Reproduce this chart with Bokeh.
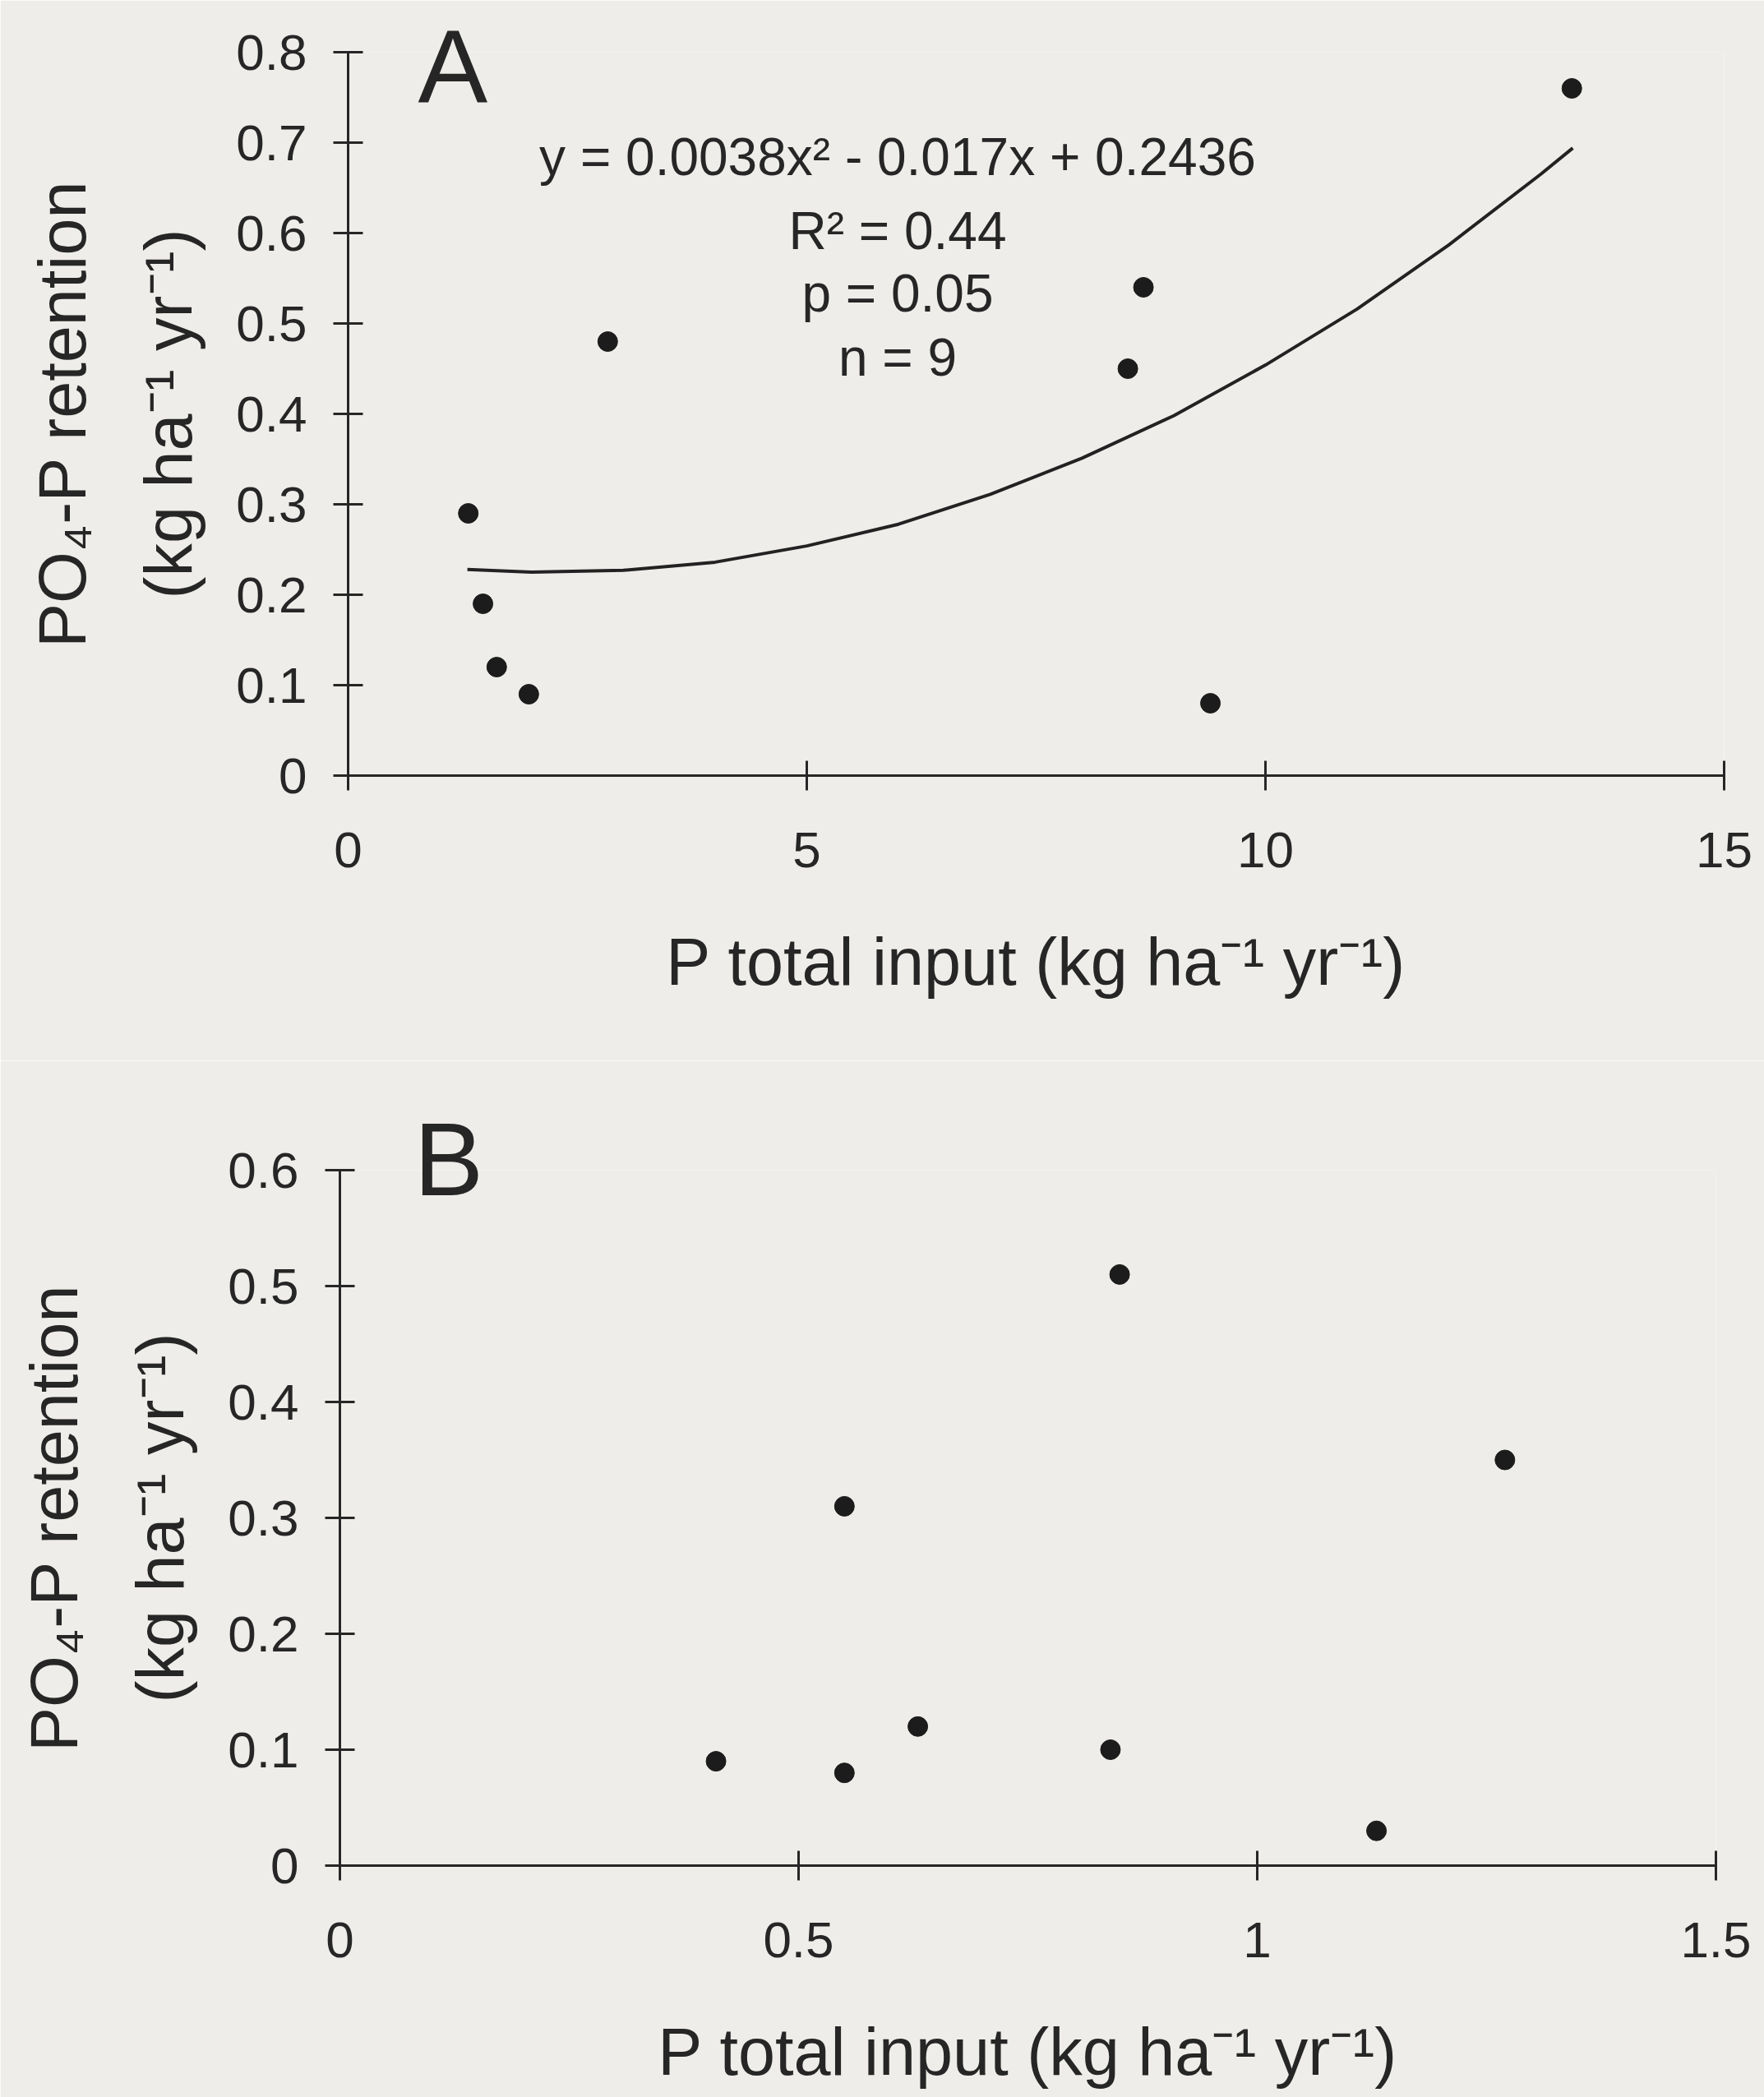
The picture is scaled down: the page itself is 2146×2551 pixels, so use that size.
from bokeh.plotting import figure
from bokeh.models import Label, LinearAxis, FixedTicker, Range1d, Title
from bokeh.layouts import column
from bokeh.embed import file_html
from bokeh.resources import INLINE

# ---------------- data: panel A ----------------
a_x = [1.31, 1.47, 1.62, 1.97, 2.83, 8.67, 8.50, 9.40, 13.34]
a_y = [0.29, 0.19, 0.12, 0.09, 0.48, 0.54, 0.45, 0.08, 0.76]
# trend line
fit_x = [1.3, 2, 3, 4, 5, 6, 7, 8, 9, 10, 11, 12, 13, 13.35]
fit_y = [0.228, 0.225, 0.227, 0.236, 0.254, 0.278, 0.311, 0.351, 0.398,
         0.454, 0.516, 0.587, 0.665, 0.694]
a_xticks = [0, 5, 10, 15]
a_xtick_labels = ["0", "5", "10", "15"]
a_yticks = [0, 0.1, 0.2, 0.3, 0.4, 0.5, 0.6, 0.7, 0.8]
a_ytick_labels = ["0", "0.1", "0.2", "0.3", "0.4", "0.5", "0.6", "0.7", "0.8"]
eq_lines = ["y = 0.0038x\u00b2 - 0.017x + 0.2436", "R\u00b2 = 0.44", "p = 0.05", "n = 9"]
eq_y = [0.684, 0.602, 0.533, 0.462]
eq_x = 5.99

# ---------------- data: panel B ----------------
b_x = [0.41, 0.55, 0.55, 0.63, 0.85, 0.84, 1.13, 1.27]
b_y = [0.09, 0.08, 0.31, 0.12, 0.51, 0.10, 0.03, 0.35]
b_xticks = [0, 0.5, 1, 1.5]
b_xtick_labels = ["0", "0.5", "1", "1.5"]
b_yticks = [0, 0.1, 0.2, 0.3, 0.4, 0.5, 0.6]
b_ytick_labels = ["0", "0.1", "0.2", "0.3", "0.4", "0.5", "0.6"]

x_title = "P total input (kg ha\u207b\u00b9 yr\u207b\u00b9)"
y_title1 = "PO\u2084-P retention"
y_title2 = "(kg ha\u207b\u00b9 yr\u207b\u00b9)"

BG = "#eeede9"
INK = "#262626"
FONT = "Liberation Sans"
W = 2146
TITLE_SIZE = "81px"


def style_axis(ax, ticks, labels):
    ax.ticker = FixedTicker(ticks=ticks)
    ax.major_label_overrides = {t: l for t, l in zip(ticks, labels)}
    ax.axis_line_width = 3
    ax.axis_line_color = INK
    ax.major_tick_line_width = 3
    ax.major_tick_line_color = INK
    ax.major_tick_in = 18
    ax.major_tick_out = 18
    ax.minor_tick_line_color = None
    ax.major_label_text_font = FONT
    ax.major_label_text_font_size = "62px"
    ax.major_label_text_color = INK
    ax.axis_label_text_font = FONT
    ax.axis_label_text_font_size = TITLE_SIZE
    ax.axis_label_text_font_style = "normal"
    ax.axis_label_text_color = INK


def make_panel(xs, ys, xr, yr, xticks, xlabels, yticks, ylabels,
               left, top, fh, bottom, letter, letter_offset, letter_standoff):
    fw = 1674
    right = W - left - fw
    p = figure(width=W, height=top + fh + bottom,
               frame_width=fw, frame_height=fh,
               x_range=Range1d(*xr), y_range=Range1d(*yr),
               output_backend="svg", toolbar_location=None,
               min_border_left=left, min_border_right=right,
               min_border_top=top, min_border_bottom=bottom)
    p.frame_align = False
    p.background_fill_color = BG
    p.border_fill_color = BG
    p.outline_line_color = None
    p.grid.visible = False

    p.title = Title(text=letter, align="left", offset=letter_offset,
                    standoff=letter_standoff, vertical_align="bottom",
                    text_font=FONT, text_font_size="127px",
                    text_font_style="normal", text_color=INK)

    xa = p.xaxis[0]
    style_axis(xa, xticks, xlabels)
    xa.major_label_standoff = 51
    xa.axis_label = x_title
    xa.axis_label_standoff = 67

    ya = p.yaxis[0]
    style_axis(ya, yticks, ylabels)
    ya.major_label_standoff = 32
    ya.axis_label = y_title2
    ya.axis_label_standoff = 34

    outer = LinearAxis(ticker=FixedTicker(ticks=[]))
    outer.axis_line_color = None
    outer.major_tick_in = 0
    outer.major_tick_out = 0
    outer.minor_tick_line_color = None
    outer.major_label_standoff = 0
    outer.axis_label = y_title1
    outer.axis_label_standoff = 37
    outer.axis_label_text_font = FONT
    outer.axis_label_text_font_size = TITLE_SIZE
    outer.axis_label_text_font_style = "normal"
    outer.axis_label_text_color = INK
    p.add_layout(outer, "left")

    p.scatter(xs, ys, marker="circle", size=24, fill_color="#1c1c1c",
              line_color="#1c1c1c")
    return p


pa = make_panel(a_x, a_y, (0, 15), (0, 0.8), a_xticks, a_xtick_labels,
                a_yticks, a_ytick_labels,
                left=423, top=63, fh=880, bottom=347,
                letter="A", letter_offset=85, letter_standoff=-174)
pa.line(fit_x, fit_y, line_width=4, line_color="#222222")
for txt, yy in zip(eq_lines, eq_y):
    pa.add_layout(Label(x=eq_x, y=yy, text=txt, text_font=FONT,
                        text_font_size="64px", text_color=INK,
                        text_align="center", text_baseline="alphabetic"))

pb = make_panel(b_x, b_y, (0, 1.5), (0, 0.6), b_xticks, b_xtick_labels,
                b_yticks, b_ytick_labels,
                left=413, top=133, fh=846, bottom=282,
                letter="B", letter_offset=90, letter_standoff=-114)

layout = column(pa, pb, spacing=0)
html = file_html(layout, INLINE)
html = html.replace("<body>", '<body style="background-color:%s;">' % BG, 1)
open("out.html", "w").write(html)
